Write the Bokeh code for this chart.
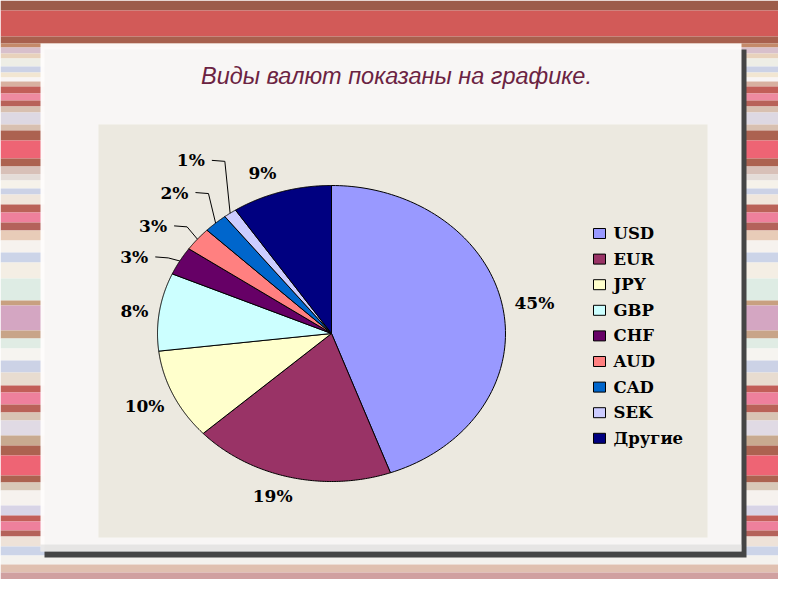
import numpy as np
from bokeh.plotting import figure
from bokeh.models import Range1d
from bokeh.core.properties import value
from bokeh.embed import file_html
from bokeh.resources import INLINE

# ---------------- data ----------------
categories = ["USD", "EUR", "JPY", "GBP", "CHF", "AUD", "CAD", "SEK", "Другие"]
shares = [44.5, 18.7, 9.9, 8.5, 3.1, 2.6, 2.2, 1.2, 9.3]
share_labels = ["45%", "19%", "10%", "8%", "3%", "3%", "2%", "1%", "9%"]
title_text = "Виды валют показаны на графике."

# ---------------- styles / layout ----------------
colors = ["#9999FF", "#993366", "#FFFFCC", "#CCFFFF", "#660066",
          "#FF8080", "#0066CC", "#CCCCFF", "#000080"]
label_k = [1.184, 1.152, 1.18, 1.143, 1.246, 1.257, 1.312, 1.422, 1.152]
label_nudge = [0.0, 3.2, 0.2, -0.85, -4.8, -4.25, -1.7, 1.0, -3.4]
has_leader = [False, False, False, False, True, True, True, True, False]
CX, CY, RX, RY = 331.0, 333.0, 174.0, 148.0
SERIF = "DejaVu Serif"

stripes = [
    (0, 10, "#9c5c4a"), (10, 36, "#d25a58"), (36, 43, "#a8604e"), (43, 47, "#c48a6a"),
    (47, 53, "#d8c0cc"), (53, 58, "#e8d2bc"), (58, 66, "#eeeee6"), (66, 72, "#ccd2e6"),
    (72, 77, "#f2e6d2"), (77, 81, "#f8f4f4"), (81, 86, "#d8b0a0"), (86, 93, "#c25e58"),
    (93, 100, "#ee8aa0"), (100, 106, "#b86258"), (106, 112, "#d8c0b0"), (112, 124, "#ddd8e2"),
    (124, 130, "#d8c0b0"), (130, 140, "#ac6250"), (140, 158, "#ee6474"), (158, 166, "#ac6250"),
    (166, 174, "#d8c0b8"), (174, 180, "#e4dcd8"), (180, 188, "#f6f2ea"), (188, 194, "#ccd2e6"),
    (194, 204, "#f0e6dc"), (204, 212, "#ba6258"), (212, 222, "#ee809c"), (222, 230, "#b4625a"),
    (230, 240, "#e8ccb8"), (240, 252, "#f6f2ee"), (252, 262, "#ccd4e8"), (262, 278, "#f4eee4"),
    (278, 300, "#deece4"), (300, 305, "#c8a080"), (305, 330, "#d4a6c2"), (330, 338, "#c8a488"),
    (338, 348, "#e0ece4"), (348, 360, "#f6f4f0"), (360, 372, "#ccd2e6"), (372, 385, "#e8dcd0"),
    (385, 392, "#c25e58"), (392, 404, "#ee809c"), (404, 412, "#ba6258"), (412, 420, "#d8c4b4"),
    (420, 435, "#e0dae4"), (435, 445, "#c8aa90"), (445, 455, "#ac6250"), (455, 475, "#ee6474"),
    (475, 482, "#ac6250"), (482, 490, "#d8c8b8"), (490, 505, "#f6f2ee"), (505, 515, "#d8d4e6"),
    (515, 521, "#c25e58"), (521, 530, "#ee809c"), (530, 536, "#b4625a"), (536, 546, "#eee2d8"),
    (546, 555, "#ccd4e8"), (555, 564, "#f4f2ee"), (564, 572, "#e0c0b0"), (572, 580, "#d0a0a0"),
    (580, 588, "#c07c54"), (588, 595, "#9c6040"),
]

p = figure(width=778, height=579, output_backend="svg", toolbar_location=None,
           x_range=Range1d(0, 778), y_range=Range1d(579, 0), min_border=0)
p.axis.visible = False
p.grid.visible = False
p.outline_line_color = None
p.background_fill_color = "white"
p.border_fill_color = "white"

# background stripes
p.quad(left=[0] * len(stripes), right=[794] * len(stripes),
       top=[s[0] for s in stripes], bottom=[s[1] for s in stripes],
       fill_color=[s[2] for s in stripes], line_color=None)

# card shadow and card
p.quad(left=[44], right=[746], top=[49], bottom=[557], fill_color="#454545", line_color=None)
p.quad(left=[40], right=[741], top=[43], bottom=[551], fill_color="#fefcfb",
       fill_alpha=0.97, line_color=None)
p.quad(left=[40], right=[741], top=[544], bottom=[551], fill_color="#d0d0d0",
       fill_alpha=0.45, line_color=None)

# chart panel
p.quad(left=[98], right=[707], top=[124], bottom=[537], fill_color="#ECE9E0", line_color=None)

# pie slices (clockwise from 12 o'clock)
fr = np.array(shares) / np.sum(shares)
ends = np.cumsum(fr) * 360.0
starts = ends - fr * 360.0
xs, ys = [], []
for a0, a1 in zip(starts, ends):
    t = np.radians(np.linspace(a0, a1, 120))
    xs.append([CX] + list(CX + RX * np.sin(t)) + [CX])
    ys.append([CY] + list(CY - RY * np.cos(t)) + [CY])
p.patches(xs=xs, ys=ys, fill_color=colors, line_color="black", line_width=1)

# labels
mids = (starts + ends) / 2
lx, ly = [], []
for m, k, n in zip(mids, label_k, label_nudge):
    t = np.radians(m + n)
    lx.append(CX + k * RX * np.sin(t))
    ly.append(CY - k * RY * np.cos(t))
p.text(x=lx, y=ly, text=share_labels, text_align="center", text_baseline="middle",
       text_font=value(SERIF), text_font_style="bold",
       text_font_size="17px", text_color="black")

# leader lines
for i in range(len(categories)):
    if not has_leader[i]:
        continue
    t = np.radians(mids[i])
    ex, ey = CX + RX * np.sin(t), CY - RY * np.cos(t)
    sx = lx[i] + 21
    p.line(x=[sx, sx + 13, ex], y=[ly[i], ly[i] + 1, ey], line_color="black", line_width=1)

# legend
ly0, dy = 233.0, 25.6
leg_y = [ly0 + i * dy for i in range(len(categories))]
p.rect(x=[599] * len(categories), y=leg_y, width=12, height=10,
       fill_color=colors, line_color="black", line_width=1)
p.text(x=[613] * len(categories), y=leg_y, text=categories, text_align="left",
       text_baseline="middle", text_font=value(SERIF),
       text_font_style="bold", text_font_size="16.5px", text_color="black")

# title
p.text(x=[396], y=[75], text=[title_text], text_align="center", text_baseline="middle",
       text_font=value("Liberation Sans"), text_font_style="italic",
       text_font_size="23.5px", text_color="#6B2342")

open("out.html", "w").write(file_html(p, INLINE))
